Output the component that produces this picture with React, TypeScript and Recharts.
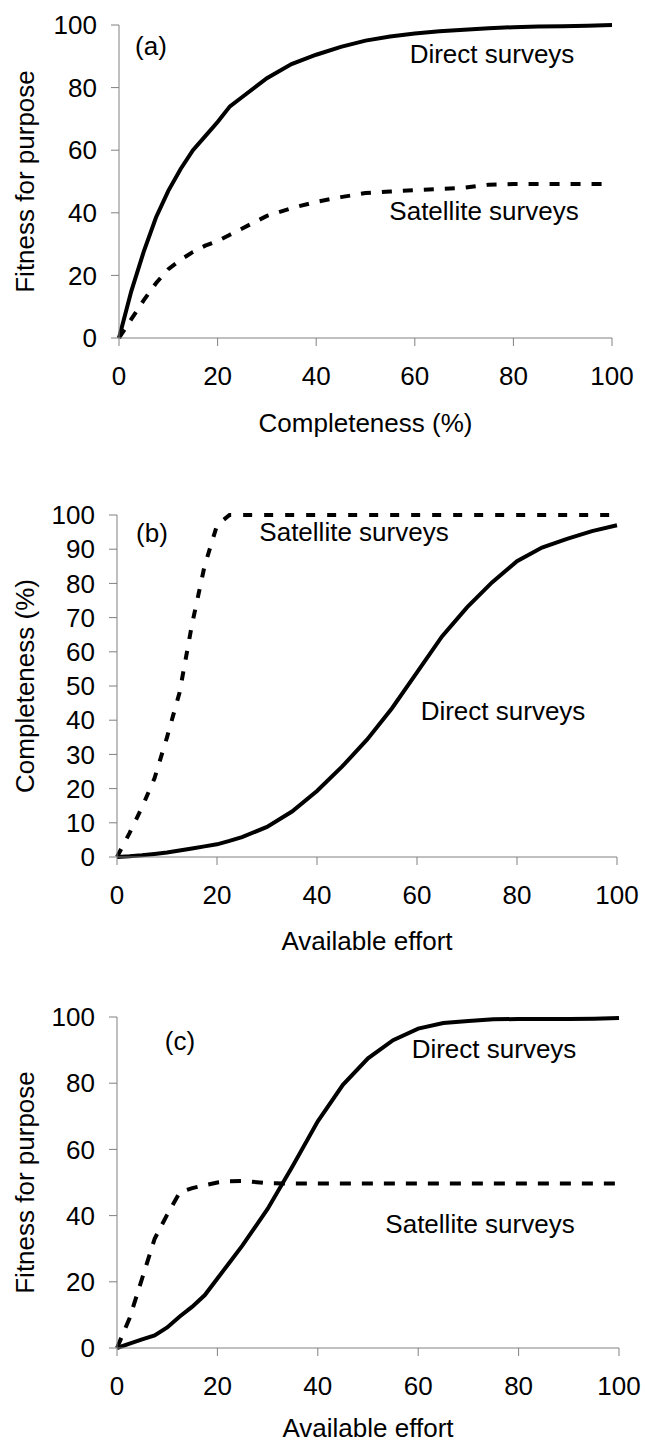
import { LineChart, Line, XAxis, YAxis } from "recharts"

// shared x sampling for every panel (completeness in a, available effort in b and c)
const steps = [0, 2.5, 5, 7.5, 10, 12.5, 15, 17.5, 20, 22.5, 25, 30, 35, 40, 45, 50, 55, 60, 65, 70, 75, 80, 85, 90, 95, 100]

// (a) fitness for purpose vs completeness
const directA = [0, 15, 27.5, 38.5, 47, 54, 60, 64.5, 69, 74, 77, 83, 87.5, 90.5, 93, 95, 96.3, 97.3, 98, 98.5, 99, 99.3, 99.5, 99.6, 99.8, 100]
const satelliteA = [0, 6, 12, 17.5, 22, 25, 27.5, 29.5, 31, 33, 35, 39, 41.5, 43.5, 45, 46.3, 46.8, 47.2, 47.6, 48, 49, 49.2, 49.2, 49.2, 49.2, 49.2]

// (b) completeness vs available effort
const directB = [0, 0.2, 0.5, 0.9, 1.3, 1.9, 2.5, 3.1, 3.7, 4.7, 5.8, 8.8, 13.3, 19.3, 26.4, 34.3, 43.5, 54, 64.5, 73, 80.3, 86.5, 90.5, 93, 95.3, 97]
const satelliteB = [0, 7, 14.5, 23, 35, 48, 68, 85, 97, 100, 100, 100, 100, 100, 100, 100, 100, 100, 100, 100, 100, 100, 100, 100, 100, 100]

// (c) fitness for purpose vs available effort
const directC = [0, 1.3, 2.6, 3.8, 6.2, 9.5, 12.5, 16, 21, 26, 31, 42, 55, 68.5, 79.5, 87.5, 93, 96.5, 98.2, 98.8, 99.3, 99.4, 99.4, 99.4, 99.5, 99.7]
const satelliteC = [0, 9, 21, 33, 40.3, 47, 48.3, 49.2, 50, 50.4, 50.5, 49.8, 49.7, 49.7, 49.7, 49.7, 49.7, 49.7, 49.7, 49.7, 49.7, 49.7, 49.7, 49.7, 49.7, 49.7]

const xTicks = [0, 20, 40, 60, 80, 100]
const yTicks20 = [0, 20, 40, 60, 80, 100]
const yTicks10 = [0, 10, 20, 30, 40, 50, 60, 70, 80, 90, 100]

const FONT = 26
const AXIS = "#808080"

type Note = { text: string; x: number; y: number }

type PanelProps = {
  top: number
  height: number
  margin: { top: number; right: number; bottom: number; left: number }
  yWidth: number
  xHeight: number
  xLabelOffset: number
  direct: number[]
  satellite: number[]
  yTicks: number[]
  xTitle: string
  yTitle: string
  notes: Note[]
  dash: string
}

function Panel(p: PanelProps) {
  const rows = steps.map((x, i) => ({ x, direct: p.direct[i], satellite: p.satellite[i] }))
  return (
    <div style={{ position: "absolute", left: 0, top: p.top, width: 645, height: p.height }}>
      <LineChart width={645} height={p.height} data={rows} margin={p.margin}>
        <XAxis
          dataKey="x"
          type="number"
          domain={[0, 100]}
          ticks={xTicks}
          interval={0}
          height={p.xHeight}
          tickSize={8}
          tickMargin={21}
          stroke={AXIS}
          tick={{ fill: "#000", fontSize: FONT }}
          label={{ value: p.xTitle, position: "insideBottom", offset: p.xLabelOffset, fill: "#000", fontSize: FONT }}
        />
        <YAxis
          type="number"
          domain={[0, 100]}
          ticks={p.yTicks}
          interval={0}
          width={p.yWidth}
          tickSize={8}
          tickMargin={14}
          stroke={AXIS}
          tick={{ fill: "#000", fontSize: FONT }}
          label={{
            value: p.yTitle,
            angle: -90,
            position: "insideLeft",
            offset: 25,
            fill: "#000",
            fontSize: FONT,
            style: { textAnchor: "middle" },
          }}
        />
        <Line
          dataKey="satellite"
          type="linear"
          stroke="#000"
          strokeWidth={4}
          strokeDasharray={p.dash}
          dot={false}
          isAnimationActive={false}
        />
        <Line
          dataKey="direct"
          type="linear"
          stroke="#000"
          strokeWidth={4}
          dot={false}
          isAnimationActive={false}
        />
      </LineChart>
      {p.notes.map((n) => (
        <div
          key={n.text}
          style={{
            position: "absolute",
            left: n.x,
            top: n.y - p.top,
            transform: "translate(-50%, -50%)",
            whiteSpace: "nowrap",
            fontSize: FONT,
            lineHeight: 1,
            color: "#000",
          }}
        >
          {n.text}
        </div>
      ))}
    </div>
  )
}

export default function App() {
  return (
    <div
      style={{
        position: "absolute",
        left: 0,
        top: 0,
        width: 645,
        height: 1445,
        background: "#fff",
        fontFamily: "'Liberation Sans', Arial, sans-serif",
      }}
    >
      <Panel
        top={0}
        height={480}
        margin={{ top: 25, right: 33, bottom: 42, left: 0 }}
        yWidth={119}
        xHeight={100}
        xLabelOffset={6}
        direct={directA}
        satellite={satelliteA}
        yTicks={yTicks20}
        xTitle="Completeness (%)"
        yTitle="Fitness for purpose"
        dash="10 11"
        notes={[
          { text: "(a)", x: 151, y: 46 },
          { text: "Direct surveys", x: 492, y: 54 },
          { text: "Satellite surveys", x: 484, y: 211 },
        ]}
      />
      <Panel
        top={480}
        height={480}
        margin={{ top: 35, right: 28, bottom: 3, left: 0 }}
        yWidth={117}
        xHeight={100}
        xLabelOffset={7}
        direct={directB}
        satellite={satelliteB}
        yTicks={yTicks10}
        xTitle="Available effort"
        yTitle="Completeness (%)"
        dash="9 12"
        notes={[
          { text: "(b)", x: 152, y: 533 },
          { text: "Satellite surveys", x: 354, y: 532 },
          { text: "Direct surveys", x: 503, y: 711 },
        ]}
      />
      <Panel
        top={960}
        height={485}
        margin={{ top: 57, right: 26, bottom: 2, left: 0 }}
        yWidth={117}
        xHeight={95}
        xLabelOffset={6}
        direct={directC}
        satellite={satelliteC}
        yTicks={yTicks20}
        xTitle="Available effort"
        yTitle="Fitness for purpose"
        dash="11 11"
        notes={[
          { text: "(c)", x: 180, y: 1041 },
          { text: "Direct surveys", x: 494, y: 1049 },
          { text: "Satellite surveys", x: 480, y: 1224 },
        ]}
      />
    </div>
  )
}
